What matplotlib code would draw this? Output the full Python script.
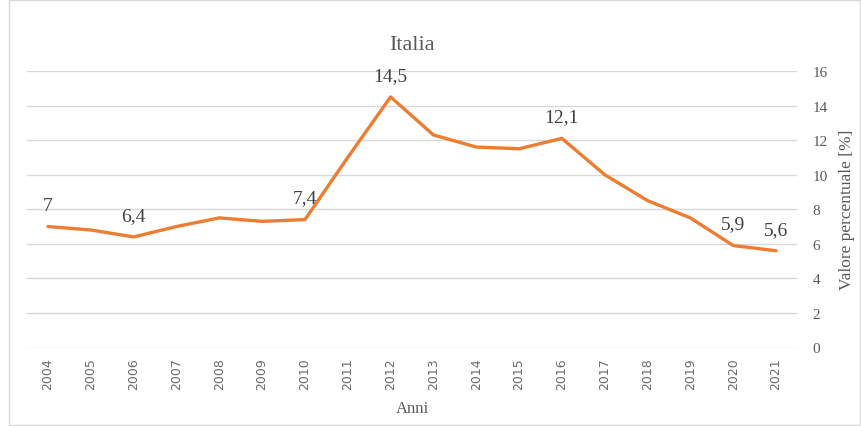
import matplotlib.pyplot as plt
import numpy as np

# Dati
anni = ["2004", "2005", "2006", "2007", "2008", "2009", "2010", "2011", "2012",
        "2013", "2014", "2015", "2016", "2017", "2018", "2019", "2020", "2021"]
valori = [7.0, 6.8, 6.4, 7.0, 7.5, 7.3, 7.4, 11.0, 14.5,
          12.3, 11.6, 11.5, 12.1, 10.0, 8.5, 7.5, 5.9, 5.6]
# anni con etichetta del valore
etichette = ["2004", "2006", "2010", "2012", "2016", "2020", "2021"]

serif = ["Liberation Serif", "DejaVu Serif"]
grigio = "#595959"

fig = plt.figure(figsize=(8.62, 4.27), dpi=100)
ax = fig.add_axes([26.6 / 862, 1 - 348.5 / 427, (797.4 - 26.6) / 862, (348.5 - 72) / 427])

x = np.arange(len(anni))
ax.plot(x, valori, color="#ED7D31", linewidth=2.4, solid_capstyle="round", zorder=3)

for i, (a, v) in enumerate(zip(anni, valori)):
    if a in etichette:
        testo = f"{v:g}".replace(".", ",")
        ax.annotate(testo, (i, v), xytext=(0, 15.5), textcoords="offset points",
                    ha="center", va="center", fontsize=14, color="#404040", family=serif)

ax.set_xlim(-0.5, len(anni) - 0.5)
ax.set_ylim(0, 16)
ax.set_yticks(np.arange(0, 17, 2))
ax.set_xticks(x)
ax.set_xticklabels(anni, rotation=90, fontsize=9, color="#6b6b6b")
ax.yaxis.tick_right()
ax.yaxis.set_label_position("right")
for lab in ax.get_yticklabels():
    lab.set_family(serif)
ax.tick_params(axis="y", length=0, pad=11, labelsize=11, labelcolor=grigio)
ax.tick_params(axis="x", length=0, pad=7)
ax.grid(axis="y", color="#D9D9D9", linewidth=1)
ax.set_axisbelow(True)
for s in ax.spines.values():
    s.set_visible(False)

ax.set_ylabel("Valore percentuale [%]", fontsize=12.5, color=grigio, family=serif, labelpad=8)
ax.set_xlabel("Anni", fontsize=12, color=grigio, family=serif, labelpad=8)
ax.set_title("Italia", fontsize=16, color=grigio, family=serif, pad=16)

# bordo del grafico
fig.patches.append(plt.Rectangle((9 / 862, 0.002), 1 - 11 / 862, 0.996, transform=fig.transFigure,
                                 fill=False, edgecolor="#D9D9D9", linewidth=1))

fig.savefig("out.png", dpi=100)
